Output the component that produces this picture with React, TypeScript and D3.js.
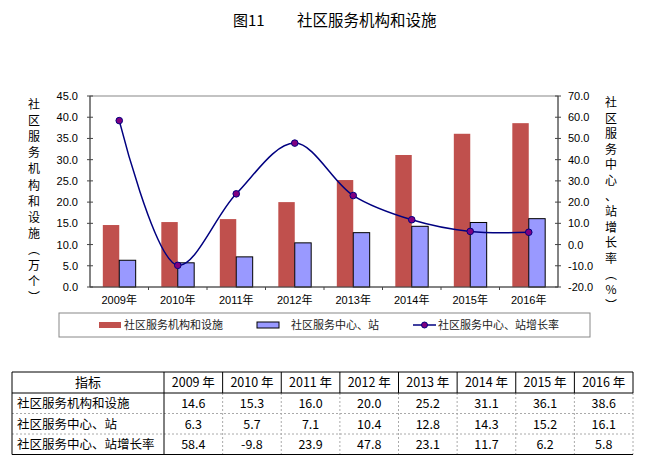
import React from "react";
import * as d3 from "d3";

const years = ["2009", "2010", "2011", "2012", "2013", "2014", "2015", "2016"];
const facilities = [14.6, 15.3, 16.0, 20.0, 25.2, 31.1, 36.1, 38.6];
const centers = [6.3, 5.7, 7.1, 10.4, 12.8, 14.3, 15.2, 16.1];
const growth = [58.4, -9.8, 23.9, 47.8, 23.1, 11.7, 6.2, 5.8];
const leftTicks = [0, 5, 10, 15, 20, 25, 30, 35, 40, 45];
const rightTicks = [-20, -10, 0, 10, 20, 30, 40, 50, 60, 70];
const seriesNames = ["社区服务机构和设施", "社区服务中心、站", "社区服务中心、站增长率"];
const rowLabels = seriesNames;
const rowValues = [
  ["14.6", "15.3", "16.0", "20.0", "25.2", "31.1", "36.1", "38.6"],
  ["6.3", "5.7", "7.1", "10.4", "12.8", "14.3", "15.2", "16.1"],
  ["58.4", "-9.8", "23.9", "47.8", "23.1", "11.7", "6.2", "5.8"],
];
const leftTitle = "社区服务机构和设施（万个）".split("");
const rightTitle = "社区服务中心、站增长率（%）".split("");

const W = 645, H = 464;
const plot = { l: 90, r: 558, t: 96, b: 287 };
const RED = "#C0504D";
const BLUE = "#9999FF";
const NAVY = "#000080";
const axisFont = "'Liberation Sans', Arial, sans-serif";
const cjk = "'Noto Sans CJK SC', sans-serif";

const vert = (c: string) => (c === "（" ? "︵" : c === "）" ? "︶" : c);

export default function App() {
  const x = d3.scaleBand<string>().domain(years).range([plot.l, plot.r]).padding(0);
  const xi = d3.scaleBand<string>().domain(["a", "b"]).range([0, x.bandwidth()]).paddingInner(0).paddingOuter(0.78);
  const yL = d3.scaleLinear().domain([0, 45]).range([plot.b, plot.t]);
  const yR = d3.scaleLinear().domain([-20, 70]).range([plot.b, plot.t]);
  const cx = (y: string) => (x(y) as number) + x.bandwidth() / 2;
  const line = d3
    .line<number>()
    .x((_, i) => cx(years[i]))
    .y((d) => yR(d))
    .curve(d3.curveCatmullRom.alpha(0.5));

  // table geometry
  const tTop = 372, headerH = 21, rowH = 20.5;
  const col0L = 12, col0R = 164, tRight = 633;
  const colW = (tRight - col0R) / years.length;
  const tBottom = tTop + headerH + rowH * 3;

  return (
    <svg width={W} height={H} style={{ position: "absolute", left: 0, top: 0, background: "#fff" }}>
      {/* title */}
      <text x={233} y={26} fontFamily={cjk} fontSize={15} fill="#000">图11</text>
      <text x={297} y={26} fontFamily={cjk} fontSize={15.5} fill="#000">社区服务机构和设施</text>

      {/* plot border */}
      <rect x={plot.l} y={plot.t} width={plot.r - plot.l} height={plot.b - plot.t} fill="none" stroke="#888" strokeWidth={1} />

      {/* bars */}
      {years.map((yr, i) => (
        <g key={yr}>
          <rect x={(x(yr) as number) + (xi("a") as number)} y={yL(facilities[i])} width={xi.bandwidth()} height={plot.b - yL(facilities[i])} fill={RED} />
          <rect x={(x(yr) as number) + (xi("b") as number)} y={yL(centers[i])} width={xi.bandwidth()} height={plot.b - yL(centers[i])} fill={BLUE} stroke="#000" strokeWidth={1} />
        </g>
      ))}

      {/* axes */}
      <line x1={plot.l} x2={plot.l} y1={plot.t} y2={plot.b} stroke="#444" />
      <line x1={plot.r} x2={plot.r} y1={plot.t} y2={plot.b} stroke="#444" />
      <line x1={plot.l} x2={plot.r} y1={plot.b} y2={plot.b} stroke="#444" />
      {leftTicks.map((t) => (
        <g key={"l" + t}>
          <line x1={plot.l - 3} x2={plot.l + 3} y1={yL(t)} y2={yL(t)} stroke="#444" />
          <text x={78} y={yL(t) + 4} textAnchor="end" fontFamily={axisFont} fontSize={11} fill="#000">{t.toFixed(1)}</text>
        </g>
      ))}
      {rightTicks.map((t) => (
        <g key={"r" + t}>
          <line x1={plot.r - 3} x2={plot.r + 3} y1={yR(t)} y2={yR(t)} stroke="#444" />
          <text x={568} y={yR(t) + 4} textAnchor="start" fontFamily={axisFont} fontSize={11} fill="#000">{t.toFixed(1)}</text>
        </g>
      ))}
      {years.map((yr, i) => (
        <g key={"x" + yr}>
          {i > 0 && <line x1={x(yr) as number} x2={x(yr) as number} y1={plot.b} y2={plot.b + 3} stroke="#444" />}
          <text x={cx(yr)} y={304} textAnchor="middle" fontFamily={axisFont} fontSize={11} fill="#000">
            {yr}
            <tspan fontFamily={cjk}>年</tspan>
          </text>
        </g>
      ))}

      {/* growth line */}
      <path d={line(growth) || ""} fill="none" stroke={NAVY} strokeWidth={1.5} />
      {growth.map((g, i) => (
        <circle key={"c" + i} cx={cx(years[i])} cy={yR(g)} r={3.3} fill="#800080" stroke={NAVY} strokeWidth={1} />
      ))}

      {/* axis titles */}
      {leftTitle.map((c, i) => (
        <text key={"lt" + i} x={34} y={109 + i * 16.1} textAnchor="middle" fontFamily={cjk} fontSize={12} fill="#000">
          {vert(c)}
        </text>
      ))}
      {rightTitle.map((c, i) => (
        <text key={"rt" + i} x={611} y={107 + i * 15.6} textAnchor="middle" fontFamily={cjk} fontSize={12} fill="#000">
          {vert(c)}
        </text>
      ))}

      {/* legend */}
      <rect x={59} y={313} width={531} height={24} fill="#fff" stroke="#888" strokeWidth={1} />
      <rect x={99} y={322} width={22} height={6} fill={RED} />
      <text x={124} y={329} fontFamily={cjk} fontSize={11} fill="#222">{seriesNames[0]}</text>
      <rect x={257} y={322} width={22} height={6} fill={BLUE} stroke="#000" strokeWidth={1} />
      <text x={291} y={329} fontFamily={cjk} fontSize={11} fill="#222">{seriesNames[1]}</text>
      <line x1={413} x2={436} y1={325} y2={325} stroke={NAVY} strokeWidth={1.5} />
      <circle cx={424.5} cy={325} r={3} fill="#800080" stroke={NAVY} />
      <text x={438} y={329} fontFamily={cjk} fontSize={11} fill="#222">{seriesNames[2]}</text>

      {/* table */}
      <g>
        {[1, 2].map((r) => (
          <line key={"h" + r} x1={col0L} x2={tRight} y1={tTop + headerH + rowH * r} y2={tTop + headerH + rowH * r} stroke="#aaa" strokeDasharray="2,2" />
        ))}
        {years.map((_, j) => {
          const xx = col0R + colW * j;
          return (
            <g key={"v" + j}>
              <line x1={xx} x2={xx} y1={tTop} y2={tTop + headerH} stroke="#000" />
              <line x1={xx} x2={xx} y1={tTop + headerH} y2={tBottom} stroke={j === 0 ? "#000" : "#aaa"} strokeDasharray={j === 0 ? undefined : "2,2"} />
            </g>
          );
        })}
        <line x1={tRight} x2={tRight} y1={tTop} y2={tTop + headerH} stroke="#000" />
        <line x1={tRight} x2={tRight} y1={tTop + headerH} y2={tBottom} stroke="#aaa" strokeDasharray="2,2" />
        <line x1={col0L} x2={col0L} y1={tTop} y2={tBottom} stroke="#000" />
        <line x1={col0L} x2={tRight} y1={tTop} y2={tTop} stroke="#000" />
        <line x1={col0L} x2={tRight} y1={tTop + headerH} y2={tTop + headerH} stroke="#000" />
        <line x1={col0L} x2={tRight} y1={tBottom} y2={tBottom} stroke="#000" />

        <text x={(col0L + col0R) / 2} y={tTop + 15} textAnchor="middle" fontFamily={cjk} fontSize={13} fill="#000">指标</text>
        {years.map((yr, j) => (
          <text key={"th" + yr} x={col0R + colW * (j + 0.5)} y={tTop + 15} textAnchor="middle" fontFamily={cjk} fontSize={12.5} fill="#000">
            {yr} 年
          </text>
        ))}
        {rowLabels.map((lab, r) => (
          <g key={"row" + r}>
            <text x={17} y={tTop + headerH + rowH * r + 15} fontFamily={cjk} fontSize={12.5} fill="#000">{lab}</text>
            {rowValues[r].map((v, j) => (
              <text key={"cell" + j} x={col0R + colW * (j + 0.5)} y={tTop + headerH + rowH * r + 15} textAnchor="middle" fontFamily={cjk} fontSize={12.5} fill="#000">
                {v}
              </text>
            ))}
          </g>
        ))}
      </g>
    </svg>
  );
}
